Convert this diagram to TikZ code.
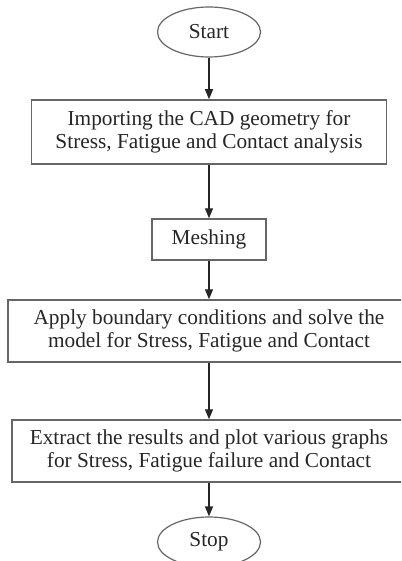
\documentclass[tikz,border=0pt]{standalone}
\usepackage{fontspec}
\setmainfont{Liberation Serif}
\usetikzlibrary{positioning,calc,arrows.meta,shapes.geometric}
\tikzstyle{edge} = [-{Triangle[length=10pt,width=8pt]}, line width=1.3pt, black!85]
\tikzstyle{term} = [ellipse, draw=black!60, line width=1.2pt, minimum width=103pt, minimum height=50pt]
\tikzstyle{stepbox} = [rectangle, draw=black!60, line width=1.5pt]

\begin{document}
\begin{tikzpicture}[x=1pt, y=-1pt]
\tikzstyle{every node}=[align=center, inner sep=1pt, text=black!85, font=\fontsize{21.3}{23}\selectfont]
	\useasboundingbox (0,0) rectangle (401,561);
	\clip (0,0) rectangle (401,561);
	\node[term] (start) at (209, 32) {Start};
	\node[stepbox, minimum width=355pt, minimum height=64pt] (import) at (209, 132) {Importing the CAD geometry for \\ Stress, Fatigue and Contact analysis};
	\node[stepbox, minimum width=114pt, minimum height=41pt] (mesh) at (209, 239.5) {Meshing};
	\node[stepbox, minimum width=402pt, minimum height=62pt] (solve) at (209, 331) {Apply boundary conditions and solve the \\ model for Stress, Fatigue and Contact};
	\node[stepbox, minimum width=394pt, minimum height=62pt] (extract) at (209, 451) {Extract the results and plot various graphs \\ for Stress, Fatigue failure and Contact};
	\node[term] (stop) at (209, 542) {Stop};

	\draw[edge]  (start) to (import);
	\draw[edge]  (import) to (mesh);
	\draw[edge]  (mesh) to (solve);
	\draw[edge]  (solve) to (extract);
	\draw[edge]  (extract) to (stop);
\end{tikzpicture}
\end{document}
